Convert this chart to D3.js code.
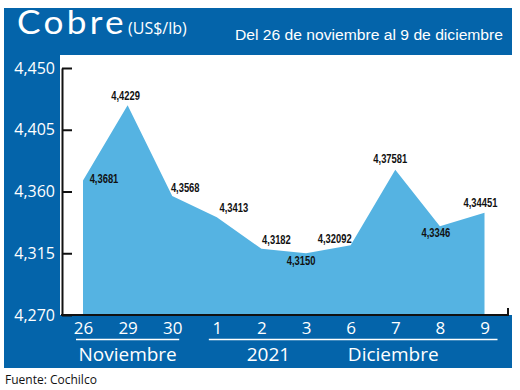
<!DOCTYPE html>
<html>
<head>
<meta charset="utf-8">
<script src="https://cdn.jsdelivr.net/npm/d3@7"></script>
<style>
  html, body { margin: 0; padding: 0; background: #fff; }
  svg { display: block; }
</style>
</head>
<body>
<div id="chart"></div>
<script>
// datos: cobre US$/lb, 26 nov - 9 dic 2021
const days = ["26", "29", "30", "1", "2", "3", "6", "7", "8", "9"];
const prices = [4.3681, 4.4229, 4.3568, 4.3413, 4.3182, 4.3150, 4.32092, 4.37581, 4.3346, 4.34451];
const priceLabels = ["4,3681", "4,4229", "4,3568", "4,3413", "4,3182", "4,3150", "4,32092", "4,37581", "4,3346", "4,34451"];
const yTicks = [4.27, 4.315, 4.36, 4.405, 4.45];
const yTickLabels = ["4,270", "4,315", "4,360", "4,405", "4,450"];
const months = [
  { name: "Noviembre", from: "26", to: "30" },
  { name: "Diciembre", from: "1", to: "9" }
];

// posicion de cada etiqueta respecto al punto
const labelOffsets = [[21, 3], [-2, -5], [13, -4], [17, -5], [15, -5], [-5, 12], [-16, -2], [-5, -7], [-4, 11], [-4, -6]];

const W = 520, H = 390;
const BLUE = "#0464aa", AREA = "#55b3e2";
const FONT = "'Open Sans', sans-serif";
const NARROW = "'Liberation Sans Narrow', 'Liberation Sans', sans-serif";

const svg = d3.select("#chart").append("svg")
  .attr("width", W)
  .attr("height", H);

// fondo azul en forma de marco
svg.append("rect").attr("x", 4).attr("y", 8).attr("width", 508).attr("height", 360).attr("fill", BLUE);
svg.append("rect").attr("x", 60).attr("y", 55).attr("width", 452).attr("height", 260).attr("fill", "#fff");

const x = d3.scalePoint().domain(days).range([83, 484.5]);
const y = d3.scaleLinear().domain([4.27, 4.45]).range([315, 68]);

// area
const area = d3.area()
  .x((d, i) => x(days[i]))
  .y0(y(4.27))
  .y1(d => y(d));

svg.append("path")
  .datum(prices)
  .attr("d", area)
  .attr("fill", AREA);

// eje Y
const yAxis = svg.append("g")
  .attr("transform", "translate(62,0)")
  .call(d3.axisLeft(y)
    .tickValues(yTicks)
    .tickFormat((d, i) => yTickLabels[i])
    .tickSizeInner(-10)
    .tickSizeOuter(0)
    .tickPadding(7));

yAxis.select(".domain").attr("stroke", "#111").attr("stroke-width", 2);
yAxis.selectAll(".tick line").attr("stroke", "#111").attr("stroke-width", 2);
yAxis.selectAll(".tick text")
  .attr("fill", "#fff")
  .style("font-family", FONT)
  .style("font-size", "16px");

// linea base
svg.append("path")
  .attr("d", d3.line()([[61, y(4.27)], [508, y(4.27)], [508, y(4.27) - 7]]))
  .attr("fill", "none")
  .attr("stroke", "#111")
  .attr("stroke-width", 2);

// eje X (dias)
const xAxis = svg.append("g")
  .attr("transform", `translate(0,${y(4.27)})`)
  .call(d3.axisBottom(x).tickSize(0));

xAxis.select(".domain").remove();
xAxis.selectAll(".tick text")
  .attr("y", 19)
  .attr("dy", 0)
  .attr("fill", "#fff")
  .style("font-family", FONT)
  .style("font-size", "17px");

// meses
months.forEach((m, i) => {
  const x0 = x(m.from) - (i === 0 ? 7 : 8);
  const x1 = x(m.to) + (i === 0 ? 7 : 13);
  svg.append("line")
    .attr("x1", x0).attr("x2", x1)
    .attr("y1", 339.5).attr("y2", 339.5)
    .attr("stroke", "#fff")
    .attr("stroke-width", 1.5);
});

svg.append("text")
  .attr("x", x("29")).attr("y", 361)
  .attr("text-anchor", "middle")
  .attr("fill", "#fff")
  .style("font-family", FONT).style("font-size", "19px")
  .text(months[0].name);

svg.append("text")
  .attr("x", x("2") + 7).attr("y", 361)
  .attr("text-anchor", "middle")
  .attr("fill", "#fff")
  .style("font-family", FONT).style("font-size", "19px")
  .text("2021");

svg.append("text")
  .attr("x", x("7") - 2).attr("y", 361)
  .attr("text-anchor", "middle")
  .attr("fill", "#fff")
  .style("font-family", FONT).style("font-size", "19px")
  .text(months[1].name);

// etiquetas de valores (condensadas)
svg.append("g")
  .selectAll("text")
  .data(prices)
  .join("text")
  .attr("x", (d, i) => x(days[i]) + labelOffsets[i][0])
  .attr("y", (d, i) => y(d) + labelOffsets[i][1])
  .attr("text-anchor", "middle")
  .attr("fill", "#111")
  .style("font-family", NARROW)
  .style("font-weight", "bold")
  .style("font-size", "12.5px")
  .text((d, i) => priceLabels[i])
  .each(function () {
    const w = this.getComputedTextLength();
    d3.select(this)
      .attr("textLength", w * 0.75)
      .attr("lengthAdjust", "spacingAndGlyphs");
  });

// titulo
svg.append("text")
  .attr("x", 17).attr("y", 34)
  .attr("fill", "#fff")
  .attr("textLength", 110)
  .attr("lengthAdjust", "spacingAndGlyphs")
  .style("font-family", "Lato, sans-serif")
  .style("font-size", "32px")
  .style("letter-spacing", "3px")
  .text("Cobre");

svg.append("text")
  .attr("x", 128).attr("y", 34)
  .attr("fill", "#fff")
  .style("font-family", FONT)
  .style("font-size", "16px")
  .text("(US$/lb)");

svg.append("text")
  .attr("x", 235).attr("y", 40)
  .attr("fill", "#fff")
  .attr("textLength", 268)
  .attr("lengthAdjust", "spacingAndGlyphs")
  .style("font-family", NARROW)
  .style("font-size", "15.5px")
  .text("Del 26 de noviembre al 9 de diciembre");

// fuente
svg.append("text")
  .attr("x", 5).attr("y", 384)
  .attr("fill", "#111")
  .style("font-family", FONT)
  .style("font-size", "12px")
  .text("Fuente: Cochilco");
</script>
</body>
</html>
